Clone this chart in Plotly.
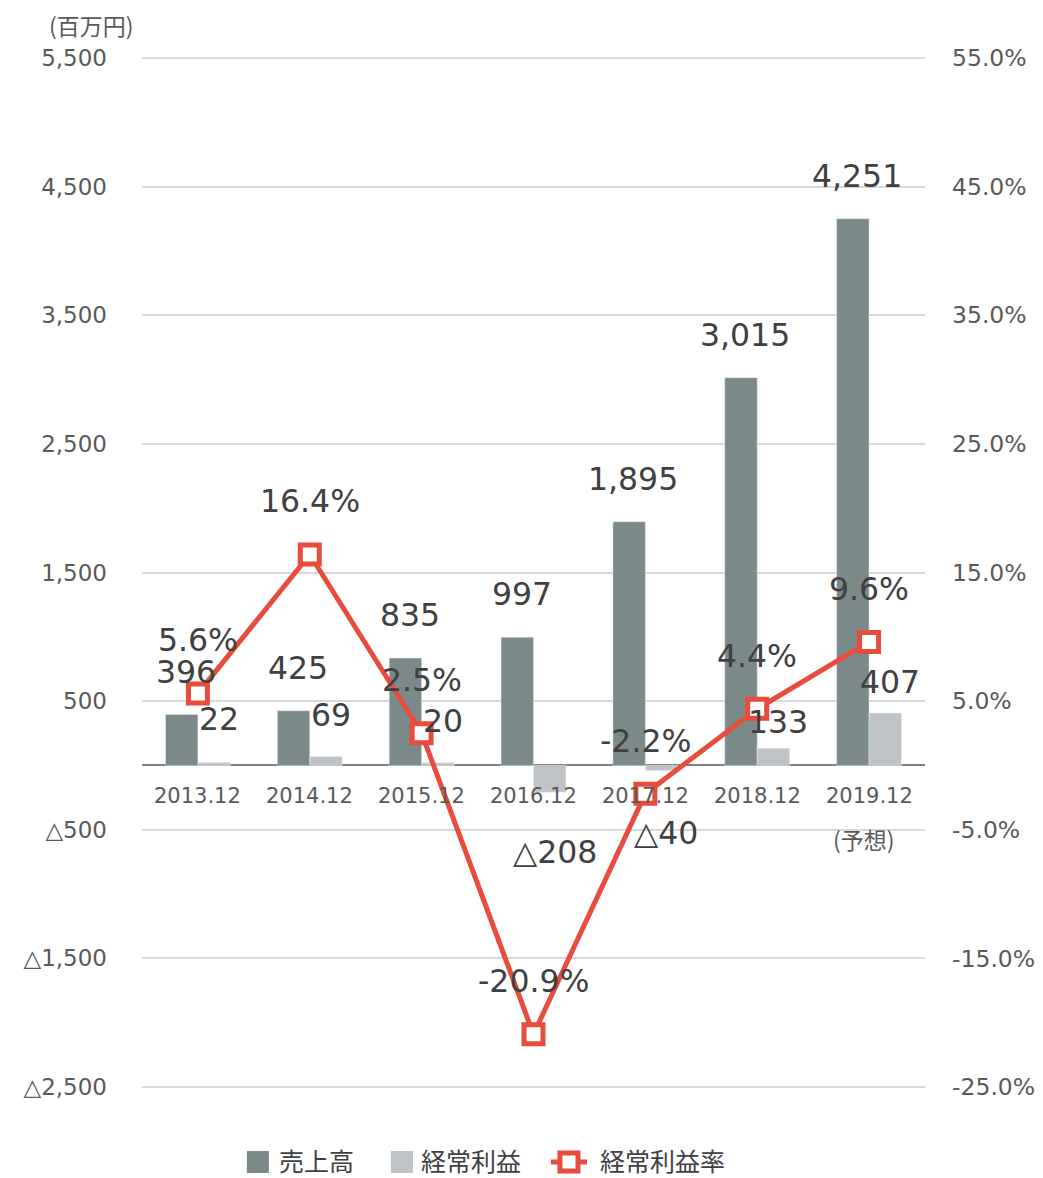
import plotly.graph_objects as go

categories = ["2013.12", "2014.12", "2015.12", "2016.12", "2017.12", "2018.12", "2019.12"]
sales = [396, 425, 835, 997, 1895, 3015, 4251]
profit = [22, 69, 20, -208, -40, 133, 407]
margin_pct = [5.6, 16.4, 2.5, -20.9, -2.2, 4.4, 9.6]

left_ticks = [5500, 4500, 3500, 2500, 1500, 500, -500, -1500, -2500]
right_ticks = [55, 45, 35, 25, 15, 5, -5, -15, -25]
# label offsets (px) of profit labels relative to bar end
profit_label_shift = [44, 42, 42, -60, -62, 26, 31]

DARK = "#7b8989"
LIGHT = "#bec3c7"
RED = "#e84c3d"
TXT = "#404040"
TICK = "#595959"
FONT = "DejaVu Sans, Noto Sans CJK JP, sans-serif"
CJK = "Noto Sans CJK JP, DejaVu Sans, sans-serif"


def fmt(v):
    s = f"{abs(v):,}"
    return ("△" + s) if v < 0 else s


fig = go.Figure()
fig.add_trace(go.Bar(x=categories, y=sales, name="売上高", marker_color=DARK,
                     offsetgroup="a", showlegend=False))
fig.add_trace(go.Bar(x=categories, y=profit, name="経常利益", marker_color=LIGHT,
                     offsetgroup="b", showlegend=False))
fig.add_trace(go.Scatter(x=categories, y=margin_pct, name="経常利益率", yaxis="y2",
                         mode="lines+markers",
                         line=dict(color=RED, width=5),
                         marker=dict(symbol="square", size=19, color="white",
                                     line=dict(color=RED, width=5)),
                         showlegend=False))

LBL = 31.5
ann = []
for i, c in enumerate(categories):
    ann.append(dict(x=i, y=sales[i], xref="x", yref="y", text=fmt(sales[i]),
                    showarrow=False, xshift=-12, yshift=43, yanchor="middle",
                    font=dict(size=LBL, color=TXT, family=FONT)))
    ann.append(dict(x=i, y=profit[i], xref="x", yref="y", text=fmt(profit[i]),
                    showarrow=False, xshift=21, yshift=profit_label_shift[i], yanchor="middle",
                    font=dict(size=LBL, color=TXT, family=FONT)))
    ann.append(dict(x=i, y=margin_pct[i], xref="x", yref="y2", text=f"{margin_pct[i]:.1f}%",
                    showarrow=False, yshift=53, yanchor="middle",
                    font=dict(size=LBL, color=TXT, family=FONT)))
    ann.append(dict(x=i, y=0, xref="x", yref="y", text=c, showarrow=False,
                    yshift=-31, yanchor="middle",
                    font=dict(size=21, color=TICK, family=FONT)))
ann.append(dict(x=len(categories) - 1, y=0, xref="x", yref="y", text="(予想)", showarrow=False,
                xshift=-5, yshift=-74, yanchor="middle", font=dict(size=23, color=TICK, family=CJK)))
ann.append(dict(x=-0.0639, y=1.030, xref="paper", yref="paper", text="(百万円)",
                showarrow=False, xanchor="center", yanchor="middle",
                font=dict(size=23, color=TICK, family=CJK)))

# custom legend
leg_y = -0.0707
legend_items = [
    (0.148, 0.1724, "売上高", DARK, "box"),
    (0.332, 0.3538, "経常利益", LIGHT, "box"),
    (0.5453, 0.5824, "経常利益率", RED, "line"),
]
shapes = []
for sx, tx, label, col, kind in legend_items:
    if kind == "box":
        shapes.append(dict(type="rect", xref="paper", yref="paper", xsizemode="pixel",
                           ysizemode="pixel", xanchor=sx, yanchor=leg_y,
                           x0=-11, x1=11, y0=-11, y1=11, fillcolor=col, line=dict(width=0)))
    else:
        shapes.append(dict(type="line", xref="paper", yref="paper", xsizemode="pixel",
                           ysizemode="pixel", xanchor=sx, yanchor=leg_y,
                           x0=-18, x1=18, y0=0, y1=0, line=dict(color=col, width=5)))
        shapes.append(dict(type="rect", xref="paper", yref="paper", xsizemode="pixel",
                           ysizemode="pixel", xanchor=sx, yanchor=leg_y,
                           x0=-9, x1=9, y0=-9, y1=9, fillcolor="white",
                           line=dict(color=col, width=5)))
    ann.append(dict(x=tx, y=leg_y, xref="paper", yref="paper", text=label, showarrow=False,
                    xanchor="left", yanchor="middle",
                    font=dict(size=25, color=TXT, family=FONT)))

# axis range padded by 2px each side so edge gridlines are drawn
pad_l = 2 * 8000 / 1029
pad_r = 2 * 80 / 1029

fig.update_layout(
    width=1035, height=1170,
    margin=dict(l=134, r=118, t=48, b=89, autoexpand=False),
    plot_bgcolor="white", paper_bgcolor="white",
    barmode="group", bargap=0.42, bargroupgap=0,
    font=dict(family=FONT, color=TICK),
    annotations=ann, shapes=shapes,
    xaxis=dict(type="category", range=[-0.5, 6.5], showticklabels=False, showgrid=False,
               zeroline=False, showline=False, ticks="", automargin=False),
    yaxis=dict(range=[-2500 - pad_l, 5500 + pad_l], tickvals=left_ticks,
               ticktext=[fmt(v) for v in left_ticks],
               showgrid=True, gridcolor="#d9d9d9", gridwidth=2,
               zeroline=True, zerolinecolor="#808080", zerolinewidth=2,
               tickfont=dict(size=23, color=TICK, family=FONT), ticklabelstandoff=34,
               showline=False, ticks="", automargin=False),
    yaxis2=dict(range=[-25 - pad_r, 55 + pad_r], overlaying="y", side="right", tickvals=right_ticks,
                ticktext=[f"{v:.1f}%" for v in right_ticks], showgrid=False, zeroline=False,
                tickfont=dict(size=23.5, color=TICK, family=FONT), ticklabelstandoff=26,
                showline=False, ticks=""),
)

fig.write_html("out.html")
